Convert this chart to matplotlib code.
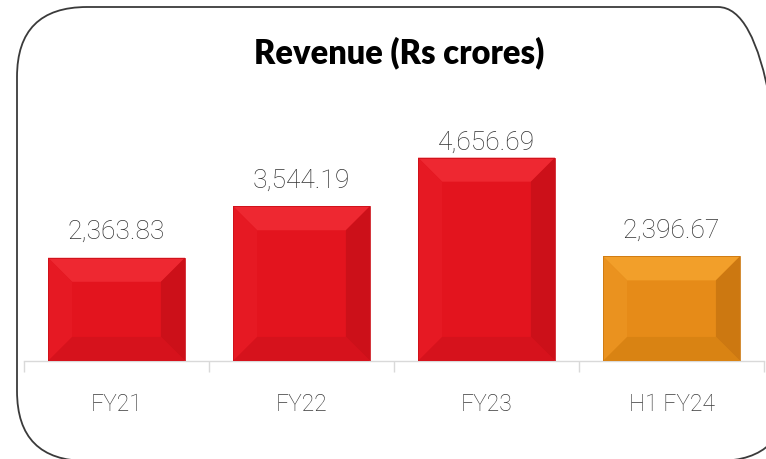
import numpy as np
import matplotlib.pyplot as plt
from matplotlib.patches import FancyBboxPatch, Polygon
from matplotlib.transforms import IdentityTransform

categories = ['FY21', 'FY22', 'FY23', 'H1 FY24']
revenue = [2363.83, 3544.19, 4656.69, 2396.67]
# face, top bevel, left bevel, right bevel, bottom bevel
red = ['#E3141E', '#EE2831', '#E61923', '#CC1019', '#D6121C']
orange = ['#E68B18', '#F29F2A', '#EA921F', '#CC7811', '#D98313']
bar_colors = [red, red, red, orange]

fig = plt.figure(figsize=(7.66, 4.6), dpi=100)

# rounded frame, drawn in pixels (origin bottom-left), partly off the canvas
frame = FancyBboxPatch((17, -2), 788 - 17, 452 + 2,
                       boxstyle='round,pad=0,rounding_size=70',
                       fc='none', ec='#3a3a3a', lw=1.3,
                       transform=IdentityTransform())
fig.add_artist(frame)

ax = fig.add_axes([24 / 766, 98 / 460, 740 / 766, 262 / 460])
x = np.arange(len(categories))
w = 0.74
ax.bar(x, revenue, width=w, color=[c[0] for c in bar_colors], zorder=2)

# bevel effect
bx = 0.13
by = 550
for xi, h, c in zip(x, revenue, bar_colors):
    x0, x1 = xi - w / 2, xi + w / 2
    polys = [
        ([(x0, h), (x1, h), (x1 - bx, h - by), (x0 + bx, h - by)], c[1]),
        ([(x0, 0), (x0, h), (x0 + bx, h - by), (x0 + bx, by)], c[2]),
        ([(x1, 0), (x1, h), (x1 - bx, h - by), (x1 - bx, by)], c[3]),
        ([(x0, 0), (x1, 0), (x1 - bx, by), (x0 + bx, by)], c[4]),
    ]
    for pts, col in polys:
        ax.add_patch(Polygon(pts, closed=True, fc=col, ec='none', zorder=3))
    ax.add_patch(plt.Rectangle((x0, 0), w, h, fc='none', ec=c[3], lw=0.6, zorder=4))
    # label kept inside the plot area, like the original
    ax.text(xi, min(h + 450, 4850), f'{h:,.2f}', ha='center', va='baseline',
            fontsize=19, color='#333333', family='Roboto', fontweight='light')

ax.set_xlim(-0.5, len(categories) - 0.5)
ax.set_ylim(0, 6000)
for s in ['top', 'left', 'right']:
    ax.spines[s].set_visible(False)
ax.spines['bottom'].set_color('#d9d9d9')
ax.spines['bottom'].set_linewidth(1)
ax.set_yticks([])
ax.set_xticks(x)
ax.set_xticklabels(categories, family='Roboto', fontweight='light', fontsize=16.5, color='#3a3a3a')
ax.set_xticks(np.arange(-0.5, len(categories)), minor=True)
ax.tick_params(axis='x', which='major', length=0, pad=22)
ax.tick_params(axis='x', which='minor', length=8, color='#d9d9d9', width=1)
ax.patch.set_alpha(0)

fig.text(399 / 766, 1 - 53 / 460, 'Revenue (Rs crores)', ha='center', va='center',
         fontsize=23.5, fontweight='heavy', family='Lato', color='black')

fig.savefig('out.png', dpi=100)
